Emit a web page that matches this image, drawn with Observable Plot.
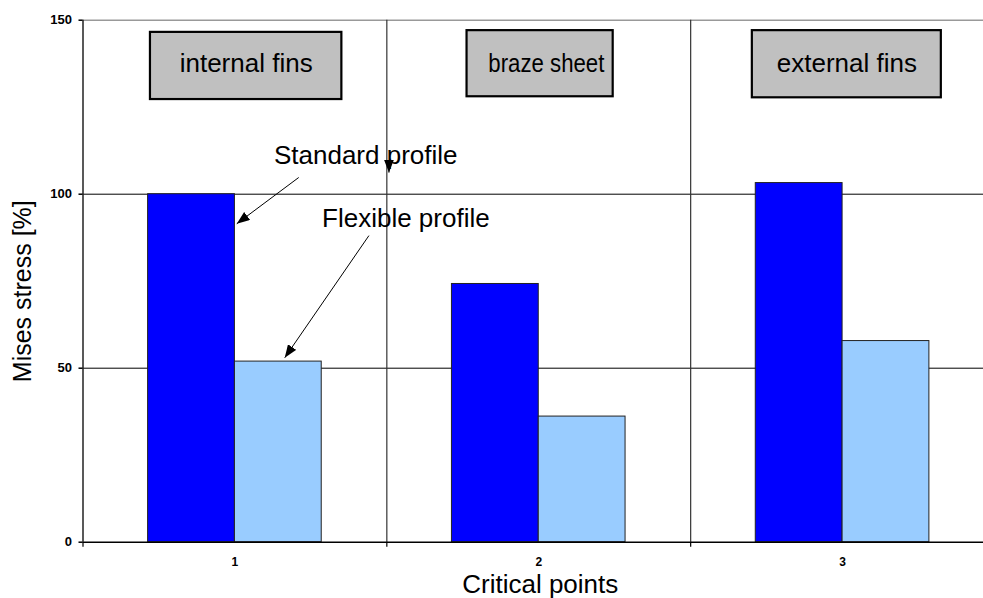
<!DOCTYPE html>
<html>
<head>
<meta charset="utf-8">
<script src="https://cdn.jsdelivr.net/npm/d3@7"></script>
<script src="https://cdn.jsdelivr.net/npm/@observablehq/plot@0.6"></script>
<style>
  html, body { margin: 0; padding: 0; background: #fff; }
  #chart svg { display: block; }
</style>
</head>
<body>
<div id="chart"></div>
<script>
// ---- data ----
const points = [1, 2, 3];
const xTickLabels = ["1", "2", "3"];
const regions = ["internal fins", "braze sheet", "external fins"];
const seriesNames = ["Standard profile", "Flexible profile"];
const standardValues = [100, 74.2, 103.2];
const flexibleValues = [51.9, 36.1, 57.8];
const yTicks = [0, 50, 100, 150];
const gridValues = [50, 100];

// ---- layout / style ----
const colors = ["#0000FF", "#99CCFF"];
const gapWidth = 1.5;                 // Excel-style gap width (150%)
const barW = 1 / (2 + gapWidth);      // width of one bar in category units

const bars = points.flatMap((p, i) => [
  {point: p, s: 0, value: standardValues[i]},
  {point: p, s: 1, value: flexibleValues[i]}
]);

// annotation placement (data units)
const boxes = [
  {label: regions[0], x1: 0.722, x2: 1.352, y1: 127.2, y2: 146.5, tx: 1.037, ty: 137.4},
  {label: regions[1], x1: 1.764, x2: 2.245, y1: 128.0, y2: 147.0, tx: 2.025, ty: 137.6},
  {label: regions[2], x1: 2.703, x2: 3.325, y1: 127.7, y2: 147.0, tx: 3.014, ty: 137.6}
];
const notes = [
  {label: seriesNames[0], x: 1.4305, y: 111.2},
  {label: seriesNames[1], x: 1.5626, y: 93.1}
];
const arrows = [
  {x1: 1.210, y1: 104.8, x2: 1.006, y2: 91.5},
  {x1: 1.507, y1: 109.8, x2: 1.507, y2: 106.2},
  {x1: 1.441, y1: 88.1, x2: 1.164, y2: 53.0}
];

const font = "'Liberation Sans', Arial, Helvetica, sans-serif";

const chart = Plot.plot({
  width: 983,
  height: 598,
  marginLeft: 82.5,
  marginRight: 0,
  marginTop: 19.7,
  marginBottom: 56.3,
  style: {fontFamily: font, background: "#fff", color: "#000", overflow: "hidden"},
  x: {type: "linear", domain: [0.5, 3.5], range: [82.5, 994]},
  y: {domain: [0, 150]},
  marks: [
    Plot.ruleY([150], {stroke: "#999", strokeWidth: 1.5}),
    Plot.ruleY(gridValues, {stroke: "#000", strokeWidth: 1}),
    Plot.ruleX([1.5, 2.5], {y1: 0, y2: 150, stroke: "#333", strokeWidth: 1.2}),
    Plot.rect(bars, {
      x1: d => d.point - barW + d.s * barW,
      x2: d => d.point + d.s * barW,
      y1: 0,
      y2: "value",
      fill: d => colors[d.s],
      stroke: "#222",
      strokeWidth: 1
    }),
    Plot.ruleY([0], {stroke: "#000", strokeWidth: 1.5}),
    Plot.ruleX([0.5], {y1: 0, y2: 150, stroke: "#222", strokeWidth: 1.5}),
    Plot.axisY(yTicks, {tickSize: 4, tickPadding: 7, fontWeight: "bold", fontSize: 13, label: null, strokeWidth: 1.5}),
    Plot.axisX([0.5, 1.5, 2.5], {tickSize: 5, tickFormat: () => "", label: null, strokeWidth: 1.2}),
    Plot.axisX(points, {tickSize: 0, tickPadding: 15, tickFormat: d => xTickLabels[points.indexOf(d)], fontWeight: "bold", fontSize: 12, label: null}),
    Plot.rect(boxes, {x1: "x1", x2: "x2", y1: "y1", y2: "y2", fill: "#C0C0C0", stroke: "#000", strokeWidth: 2.2}),
    Plot.text(boxes, {x: "tx", y: "ty", text: "label", fontSize: 26, fill: "#000"}),
    Plot.text(notes, {x: "x", y: "y", text: "label", fontSize: 26, fill: "#000"}),
    Plot.link(arrows, {x1: "x1", y1: "y1", x2: "x2", y2: "y2", stroke: "#000", strokeWidth: 1}),
    Plot.text(["Mises stress [%]"], {frameAnchor: "left", textAnchor: "middle", lineAnchor: "middle", rotate: -90, dx: -60, dy: 10, fontSize: 25, fill: "#000"}),
    Plot.text(["Critical points"], {frameAnchor: "bottom", textAnchor: "middle", lineAnchor: "middle", dx: 7, dy: 42, fontSize: 26, fill: "#000"})
  ]
});

// filled arrowheads for the annotation links
const svg = d3.select(chart);
const defs = svg.insert("defs", ":first-child");
defs.append("marker")
  .attr("id", "ahead")
  .attr("viewBox", "0 0 13 10")
  .attr("refX", 13).attr("refY", 5)
  .attr("markerWidth", 13).attr("markerHeight", 10)
  .attr("markerUnits", "userSpaceOnUse")
  .attr("orient", "auto")
  .append("path").attr("d", "M0,0L13,5L0,10Z").attr("fill", "#000");
svg.selectAll('g[aria-label="link"] path').attr("marker-end", "url(#ahead)");

// the reference draws "braze sheet" slightly condensed
svg.selectAll("text").filter(function () { return this.textContent === regions[1]; })
  .attr("textLength", 116).attr("lengthAdjust", "spacingAndGlyphs");

document.getElementById("chart").appendChild(chart);
</script>
</body>
</html>
